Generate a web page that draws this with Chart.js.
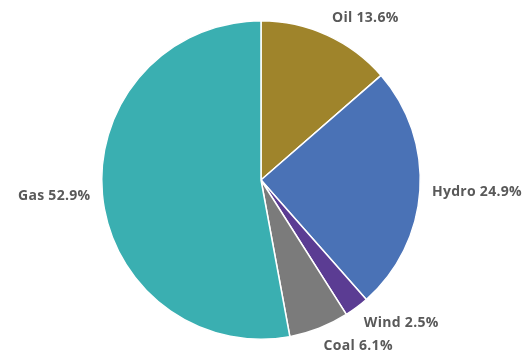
<!DOCTYPE html>
<html>
<head>
<meta charset="utf-8">
<script src="https://cdn.jsdelivr.net/npm/chart.js@4/dist/chart.umd.min.js"></script>
<style>
  html, body { margin: 0; padding: 0; background: #fff; }
  #wrap { width: 529px; height: 353px; }
</style>
</head>
<body>
<div id="wrap"><canvas id="grafico"></canvas></div>
<script>
const categorias = ['Oil', 'Hydro', 'Wind', 'Coal', 'Gas'];
const valores = [13.6, 24.9, 2.5, 6.1, 52.9];
const cores = ['#9f842b', '#4a72b6', '#5b3c93', '#7b7b7b', '#3aafb1'];

// rótulos fora da pizza, caixa encostada no ponto radial
const rotulos = {
    id: 'rotulos',
    afterDatasetsDraw(chart) {
        const ctx = chart.ctx;
        const meta = chart.getDatasetMeta(0);
        const h = 14;
        ctx.save();
        ctx.font = 'bold 14px "Open Sans", sans-serif';
        ctx.letterSpacing = '0.3px';
        ctx.fillStyle = '#595959';
        ctx.textBaseline = 'middle';
        meta.data.forEach((arc, i) => {
            const meio = (arc.startAngle + arc.endAngle) / 2;
            const d = arc.outerRadius + 12;
            const cx = Math.cos(meio), cy = Math.sin(meio);
            const x = arc.x + cx * d;
            const y = arc.y + cy * d + cy * h / 2;
            ctx.textAlign = cx >= 0 ? 'left' : 'right';
            ctx.fillText(categorias[i] + ' ' + valores[i].toFixed(1) + '%', x, y);
        });
        ctx.restore();
    }
};

const ctx = document.getElementById('grafico').getContext('2d');
new Chart(ctx, {
    type: 'pie',
    data: {
        labels: categorias,
        datasets: [{
            data: valores,
            backgroundColor: cores,
            borderColor: '#ffffff',
            borderWidth: 1.5
        }]
    },
    options: {
        responsive: true,
        maintainAspectRatio: false,
        animation: false,
        layout: { padding: { left: 101, right: 108, top: 20, bottom: 13 } },
        plugins: {
            legend: { display: false },
            tooltip: { enabled: false }
        }
    },
    plugins: [rotulos]
});
</script>
</body>
</html>
